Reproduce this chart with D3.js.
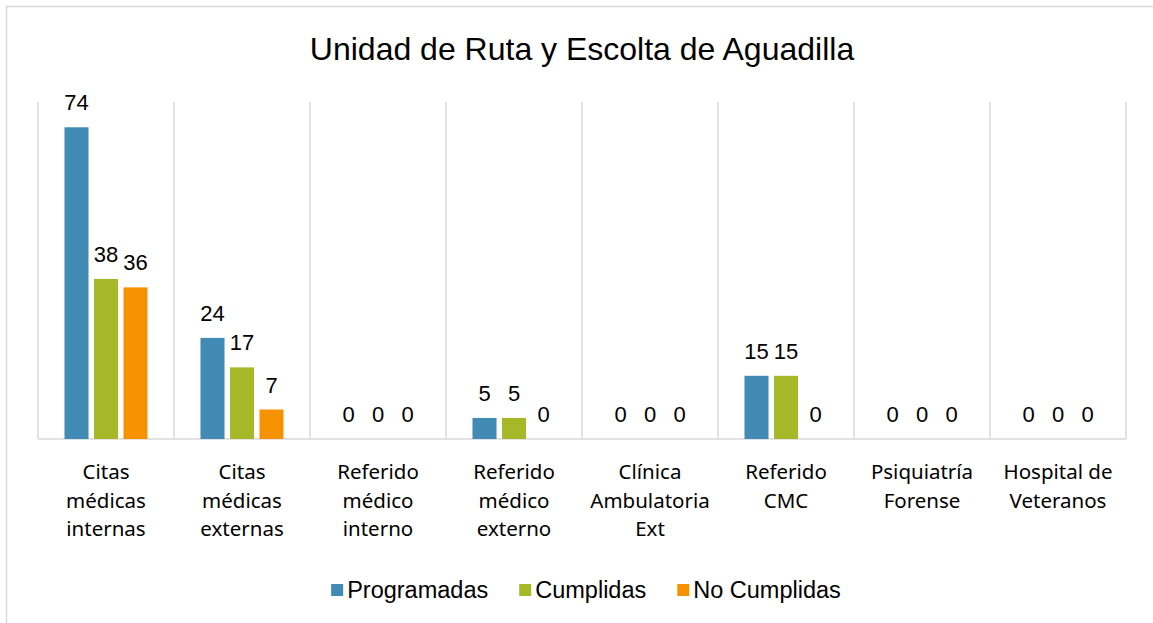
<!DOCTYPE html>
<html>
<head>
<meta charset="utf-8">
<script src="https://cdn.jsdelivr.net/npm/d3@7"></script>
<style>
  html, body { margin: 0; padding: 0; background: #fff; }
</style>
</head>
<body>
<div id="chart"></div>
<script>
// ---------------------------- DATA ----------------------------//
const categories = [
    ["Citas", "médicas", "internas"],
    ["Citas", "médicas", "externas"],
    ["Referido", "médico", "interno"],
    ["Referido", "médico", "externo"],
    ["Clínica", "Ambulatoria", "Ext"],
    ["Referido", "CMC"],
    ["Psiquiatría", "Forense"],
    ["Hospital de", "Veteranos"]
];
const seriesNames = ["Programadas", "Cumplidas", "No Cumplidas"];
const programadas = [74, 24, 0, 5, 0, 15, 0, 0];
const cumplidas = [38, 17, 0, 5, 0, 15, 0, 0];
const noCumplidas = [36, 7, 0, 0, 0, 0, 0, 0];
const colors = ["#418AB3", "#A6B727", "#F69200"];
const title = "Unidad de Ruta y Escolta de Aguadilla";

const values = [programadas, cumplidas, noCumplidas];

// --------------------------- LAYOUT ---------------------------//
const W = 1153, H = 623;
const plot = { left: 38, right: 1126, top: 102, bottom: 439 };

const svg = d3.select("#chart").append("svg")
    .attr("width", W)
    .attr("height", H);

// chart frame
svg.append("rect")
    .attr("x", 6.5).attr("y", 6.5)
    .attr("width", W + 20).attr("height", H + 20)
    .attr("fill", "#fff")
    .attr("stroke", "#d9d9d9")
    .attr("stroke-width", 1.5);

// --------------------------- SCALES ---------------------------//
const idx = d3.range(categories.length);
const x0 = d3.scaleBand().domain(idx).range([plot.left, plot.right]);
const x1 = d3.scaleBand().domain(d3.range(seriesNames.length))
    .range([x0.bandwidth() / 2 - 44.25, x0.bandwidth() / 2 + 44.25])
    .paddingInner(0.186).paddingOuter(0.093);
const y = d3.scaleLinear().domain([0, 80]).range([plot.bottom, plot.top]);

// ---------------------------- GRID ----------------------------//
const gridX = idx.map(i => x0(i)).concat([plot.right]);
svg.append("g").selectAll("line")
    .data(gridX)
    .enter().append("line")
    .attr("x1", d => d).attr("x2", d => d)
    .attr("y1", plot.top).attr("y2", plot.bottom)
    .attr("stroke", "#d9d9d9")
    .attr("stroke-width", 1.5);

svg.append("line")
    .attr("x1", plot.left).attr("x2", plot.right)
    .attr("y1", plot.bottom).attr("y2", plot.bottom)
    .attr("stroke", "#d9d9d9")
    .attr("stroke-width", 1.5);

// ---------------------------- BARS ----------------------------//
const groups = svg.append("g").selectAll("g")
    .data(idx)
    .enter().append("g")
    .attr("transform", i => "translate(" + x0(i) + ",0)");

const cells = groups.selectAll("g")
    .data(i => values.map((v, s) => ({ s: s, v: v[i] })))
    .enter().append("g");

cells.append("rect")
    .attr("x", d => x1(d.s))
    .attr("y", d => y(d.v))
    .attr("width", x1.bandwidth())
    .attr("height", d => y(0) - y(d.v))
    .attr("fill", d => colors[d.s]);

cells.append("text")
    .attr("x", d => x1(d.s) + x1.bandwidth() / 2)
    .attr("y", d => y(d.v) - 17)
    .attr("text-anchor", "middle")
    .style("font-family", "'Liberation Sans', Arial, sans-serif")
    .style("font-size", "22px")
    .attr("fill", "#000")
    .text(d => d.v);

// ---------------------- CATEGORY LABELS -----------------------//
svg.append("g").selectAll("text")
    .data(idx)
    .enter().append("text")
    .attr("text-anchor", "middle")
    .style("font-family", "'Noto Sans', 'Open Sans', sans-serif")
    .style("font-size", "20.5px")
    .attr("fill", "#000")
    .each(function (i) {
        const t = d3.select(this);
        categories[i].forEach((line, k) => {
            t.append("tspan")
                .attr("x", x0(i) + x0.bandwidth() / 2)
                .attr("y", 479 + k * 28.5)
                .text(line);
        });
    });

// ---------------------------- TITLE ---------------------------//
svg.append("text")
    .attr("x", (plot.left + plot.right) / 2)
    .attr("y", 60)
    .attr("text-anchor", "middle")
    .style("font-family", "'Liberation Sans', Arial, sans-serif")
    .style("font-size", "32px")
    .attr("fill", "#000")
    .text(title);

// --------------------------- LEGEND ---------------------------//
const legend = svg.append("g");
let lx = 0;
seriesNames.forEach((name, s) => {
    const item = legend.append("g").attr("transform", "translate(" + lx + ",0)");
    item.append("rect")
        .attr("x", 0).attr("y", -14)
        .attr("width", 12).attr("height", 12)
        .attr("fill", colors[s]);
    const t = item.append("text")
        .attr("x", 16).attr("y", 0)
        .style("font-family", "'Liberation Sans', Arial, sans-serif")
        .style("font-size", "23.5px")
        .attr("fill", "#000")
        .text(name);
    lx += 16 + t.node().getComputedTextLength() + 31;
});
const legendW = lx - 31;
legend.attr("transform", "translate(" + (586 - legendW / 2) + ",598)");
</script>
</body>
</html>
